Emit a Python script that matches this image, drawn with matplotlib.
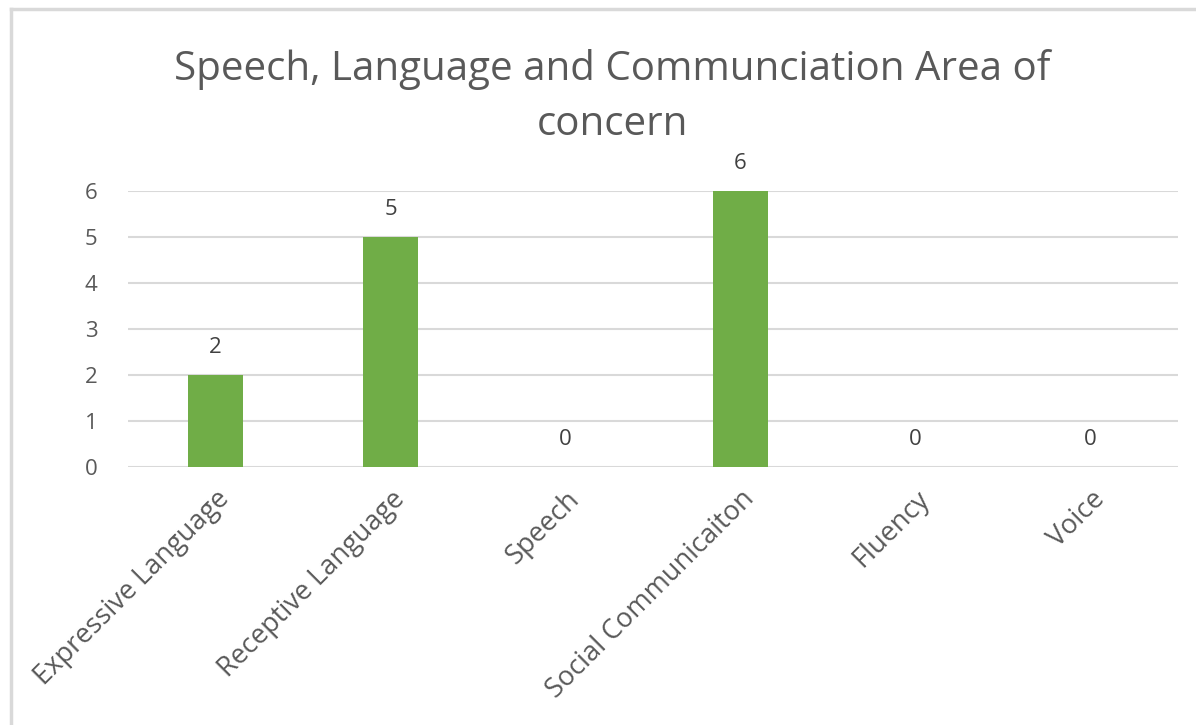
import matplotlib
matplotlib.use("Agg")
import matplotlib.pyplot as plt
from matplotlib.lines import Line2D

categories = ["Expressive Language", "Receptive Language", "Speech",
              "Social Communicaiton", "Fluency", "Voice"]
values = [2, 5, 0, 6, 0, 0]
yticks = [0, 1, 2, 3, 4, 5, 6]
title = "Speech, Language and Communciation Area of\nconcern"

plt.rcParams['font.family'] = ['Open Sans', 'DejaVu Sans']
W, H = 1196, 725
fig = plt.figure(figsize=(W / 100, H / 100), dpi=100)
ax = fig.add_axes([128 / W, 1 - 467 / H, (1178 - 128) / W, (467 - 191) / H])

x = list(range(len(categories)))
bars = ax.bar(x, values, width=0.31, color="#70AD47", zorder=3)
ax.set_xlim(-0.5, len(categories) - 0.5)
ax.set_ylim(0, 6)
ax.set_yticks(yticks)
ax.set_yticklabels([str(t) for t in yticks], fontsize=16, color="#595959")
ax.set_xticks(x)
ax.set_xticklabels(categories, rotation=45, ha="right", rotation_mode="anchor",
                   fontsize=19.5, color="#595959")
ax.tick_params(axis="both", length=0)
ax.tick_params(axis="y", pad=22)
ax.tick_params(axis="x", pad=13)
ax.grid(axis="y", color="#d9d9d9", linewidth=1.5, zorder=0)
for s in ax.spines.values():
    s.set_visible(False)

for xi, v in zip(x, values):
    ax.annotate(str(v), (xi, v), xytext=(0, 12), textcoords="offset points",
                ha="center", va="bottom", fontsize=16, color="#404040")

fig.text(612 / W, 1 - 97 / H, title, ha="center", va="center", fontsize=29,
         color="#595959", linespacing=1.5)

# chart border (top and left visible)
fig.add_artist(Line2D([11 / W, 11 / W], [0, 1 - 9 / H], transform=fig.transFigure,
                      color="#d9d9d9", linewidth=2.5))
fig.add_artist(Line2D([11 / W, 1], [1 - 9 / H, 1 - 9 / H], transform=fig.transFigure,
                      color="#d9d9d9", linewidth=2.5))

fig.savefig("out.png", dpi=100, facecolor="white")
